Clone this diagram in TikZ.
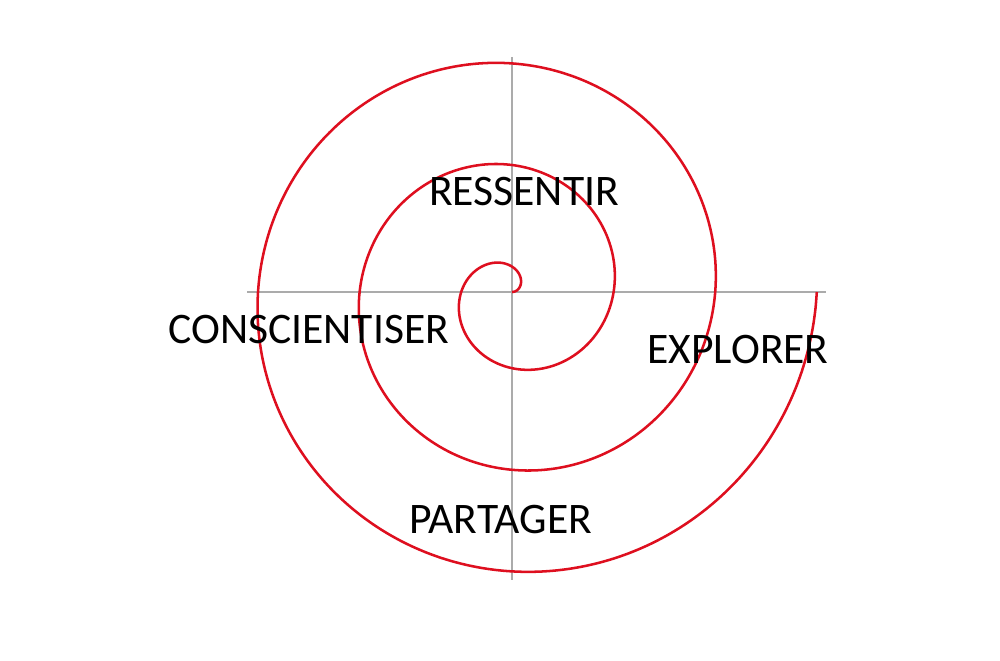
\documentclass[tikz,border=0pt]{standalone}
\usepackage{fontspec}
\setmainfont{Carlito}
\usepackage{tikz}
\definecolor{spiralred}{HTML}{DE0F1F}
\definecolor{axisgray}{HTML}{ABABAB}

\begin{document}
\begin{tikzpicture}[font=\fontsize{31}{37}\selectfont]
  \useasboundingbox (0,0) rectangle (25,16.5);
  \coordinate (o) at (12.8,9.2);
  % axes
  \coordinate (west) at (6.18,9.2);
  \coordinate (east) at (20.65,9.2);
  \coordinate (north) at (12.8,15.08);
  \coordinate (south) at (12.8,2.0);
  \draw[axisgray,line width=0.9pt] (west) -- (east);
  \draw[axisgray,line width=0.9pt] (north) -- (south);
  % spiral, three turns
  \draw[spiralred,line width=1.8pt,shift={(o)}]
    plot[domain=0:1080,samples=360,smooth,variable=\t]
    ({2.54*\t/360*cos(\t)},{2.54*\t/360*sin(\t)});
  \foreach \pos/\name/\lbl in {(13.1,11.7)/ressentir/RESSENTIR,
      (7.72,8.25)/conscientiser/CONSCIENTISER,
      (18.45,7.75)/explorer/EXPLORER,
      (12.52,3.5)/partager/PARTAGER} {
    \node[inner sep=0pt] (\name) at \pos {\lbl};
  }
\end{tikzpicture}
\end{document}
